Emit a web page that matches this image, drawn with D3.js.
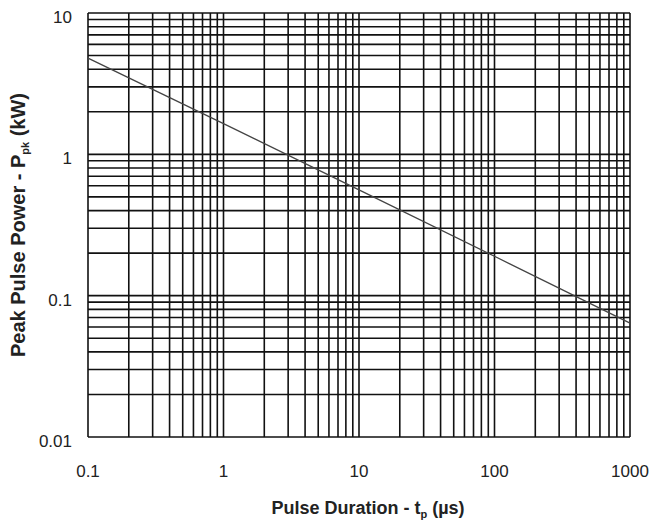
<html>
  <head>
    <meta charset="utf-8">
    <title>Peak Pulse Power</title>
    <script src="https://d3js.org/d3.v7.min.js"></script>
    <style>
      body { margin: 0; background: #fff; }
      text { font-family: "Liberation Sans", Arial, sans-serif; fill: #222; }
    </style>
  </head>
  <body>

    <svg id="grafico" width="653" height="525"></svg>

    <script>
    // dados
    let duration = [0.1, 1, 10, 100, 1000];       // tp (us)
    let power = [4.8, 1.65, 0.56, 0.19, 0.064];   // Ppk (kW)
    let xTicks = [0.1, 1, 10, 100, 1000];
    let xTickLabels = ["0.1", "1", "10", "100", "1000"];
    let yTicks = [0.01, 0.1, 1, 10];
    let yTickLabels = ["0.01", "0.1", "1", "10"];

    let width = 653;
    let height = 525;
    let mLeft = 88, mRight = 630, mTop = 13, mBottom = 437;

    let svg = d3.select("#grafico");

    let x = d3.scaleLog().domain([0.1, 1000]).range([mLeft, mRight]);
    let y = d3.scaleLog().domain([0.01, 10]).range([mBottom, mTop]);

    // linhas de grade (1..9 em cada decada)
    let xGrid = [];
    for (let d = 0.1; d < 1000; d *= 10) {
      for (let k = 1; k < 10; k++) xGrid.push(+(d * k).toPrecision(3));
    }
    xGrid.push(1000);
    let yGrid = [];
    for (let d = 0.01; d < 10; d *= 10) {
      for (let k = 1; k < 10; k++) yGrid.push(+(d * k).toPrecision(3));
    }
    yGrid.push(10);

    let grid = svg.append("g").attr("id", "grid");
    grid.selectAll("line.v")
      .data(xGrid)
      .enter()
      .append("line")
      .attr("class", "v")
      .attr("x1", d => x(d)).attr("x2", d => x(d))
      .attr("y1", mTop).attr("y2", mBottom)
      .attr("stroke", "#111")
      .attr("stroke-width", 1.6);
    grid.selectAll("line.h")
      .data(yGrid)
      .enter()
      .append("line")
      .attr("class", "h")
      .attr("x1", mLeft).attr("x2", mRight)
      .attr("y1", d => y(d)).attr("y2", d => y(d))
      .attr("stroke", "#111")
      .attr("stroke-width", 1.6);

    // curva
    let line = d3.line().x(d => x(d[0])).y(d => y(d[1]));
    svg.append("path")
      .datum(duration.map((d, i) => [d, power[i]]))
      .attr("d", line)
      .attr("fill", "none")
      .attr("stroke", "#444")
      .attr("stroke-width", 1.3);

    // rotulos dos ticks
    svg.selectAll("text.xt")
      .data(xTicks)
      .enter()
      .append("text")
      .attr("class", "xt")
      .attr("x", d => x(d))
      .attr("y", 477)
      .attr("text-anchor", "middle")
      .attr("font-size", 17)
      .text((d, i) => xTickLabels[i]);

    svg.selectAll("text.yt")
      .data(yTicks)
      .enter()
      .append("text")
      .attr("class", "yt")
      .attr("x", 72)
      .attr("y", d => y(d) + 10)
      .attr("text-anchor", "end")
      .attr("font-size", 17)
      .text((d, i) => yTickLabels[i]);

    // titulos dos eixos
    let xt = svg.append("text")
      .attr("x", 368)
      .attr("y", 514)
      .attr("text-anchor", "middle")
      .attr("font-size", 18)
      .attr("font-weight", "bold");
    xt.append("tspan").text("Pulse Duration - t");
    xt.append("tspan").attr("font-size", 11).attr("dy", 4).text("p");
    xt.append("tspan").attr("dy", -4).text(" (\u00b5s)");

    let yt = svg.append("text")
      .attr("transform", "translate(25," + 225 + ") rotate(-90)")
      .attr("text-anchor", "middle")
      .attr("font-size", 20)
      .attr("font-weight", "bold");
    yt.append("tspan").text("Peak Pulse Power - P");
    yt.append("tspan").attr("font-size", 11).attr("dy", 4).text("pk");
    yt.append("tspan").attr("dy", -4).text(" (kW)");
    </script>

  </body>
</html>
